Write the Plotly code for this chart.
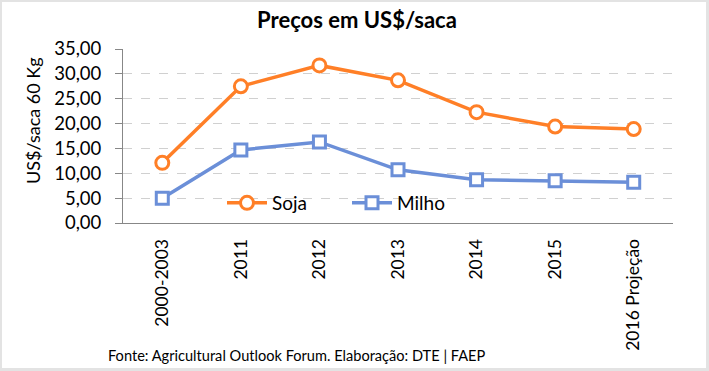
import plotly.graph_objects as go

categories = ["2000-2003", "2011", "2012", "2013", "2014", "2015", "2016 Projeção"]
soja = [12.1, 27.5, 31.7, 28.7, 22.3, 19.4, 18.9]
milho = [5.0, 14.7, 16.3, 10.7, 8.7, 8.5, 8.2]
y_ticks = [0, 5, 10, 15, 20, 25, 30, 35]

FONT = "Lato"
ORANGE = "#FF7F27"
BLUE = "#6B8FD8"

W, H = 709, 371
L, R, T, B = 123, 36, 49, 148
pw, ph = W - L - R, H - T - B


def px_x(p):
    return (p - L) / pw


def px_y(p):
    return (H - B - p) / ph


fig = go.Figure()
fig.add_trace(go.Scatter(
    x=categories, y=soja, name="Soja", mode="lines+markers",
    line=dict(color=ORANGE, width=3.5),
    marker=dict(symbol="circle", size=13, color="white", line=dict(color=ORANGE, width=3)),
))
fig.add_trace(go.Scatter(
    x=categories, y=milho, name="Milho", mode="lines+markers",
    line=dict(color=BLUE, width=3.5),
    marker=dict(symbol="square", size=12, color="white", line=dict(color=BLUE, width=3)),
))

fig.update_layout(
    width=W, height=H,
    margin=dict(l=L, r=R, t=T, b=B),
    paper_bgcolor="#E3E3E3",
    plot_bgcolor="rgba(0,0,0,0)",
    separators=",.",
    font=dict(family=FONT, size=18, color="#000000"),
    title=dict(text="<b>Preços em US$/saca</b>", x=px_x(357), xref="paper", xanchor="center",
               y=1 - 20 / H, yanchor="middle", font=dict(size=22, family=FONT)),
    showlegend=True,
    legend=dict(orientation="h", x=px_x(222), y=px_y(203), xanchor="left", yanchor="middle",
                bgcolor="rgba(0,0,0,0)", font=dict(size=19, family=FONT),
                itemwidth=40, entrywidth=70, tracegroupgap=0),
    xaxis=dict(
        type="category", showgrid=False, showline=True, linecolor="#878787", linewidth=1,
        ticks="", tickangle=-90, tickfont=dict(size=17.5, family=FONT), ticklabelstandoff=8,
        range=[-0.5, len(categories) - 0.5],
    ),
    yaxis=dict(
        range=[0, 35], tickvals=y_ticks, tickformat=".2f",
        showgrid=True, gridcolor="#D0D0D0", griddash="dash", gridwidth=1,
        showline=True, linecolor="#878787", linewidth=1, zeroline=False,
        ticks="outside", ticklen=7, tickcolor="#878787", tickwidth=1,
        tickfont=dict(size=18.5, family=FONT), ticklabelstandoff=10,
    ),
    shapes=[dict(type="rect", xref="paper", yref="paper", layer="below",
                 x0=px_x(2), x1=px_x(706), y0=px_y(368), y1=px_y(2),
                 fillcolor="white", line=dict(width=0))],
    annotations=[
        dict(text="Fonte: Agricultural Outlook Forum. Elaboração: DTE | FAEP",
             xref="paper", yref="paper", x=px_x(297), y=px_y(355),
             xanchor="center", yanchor="middle", showarrow=False,
             font=dict(size=14.6, family=FONT, color="#000000")),
        dict(text="US$/saca 60 Kg", textangle=-90,
             xref="paper", yref="paper", x=px_x(33), y=px_y(121),
             xanchor="center", yanchor="middle", showarrow=False,
             font=dict(size=18, family=FONT, color="#000000")),
    ],
)

fig.write_html("out.html", config={"displayModeBar": False},
               post_script="document.body.style.margin='0';document.body.style.overflow='hidden';")
